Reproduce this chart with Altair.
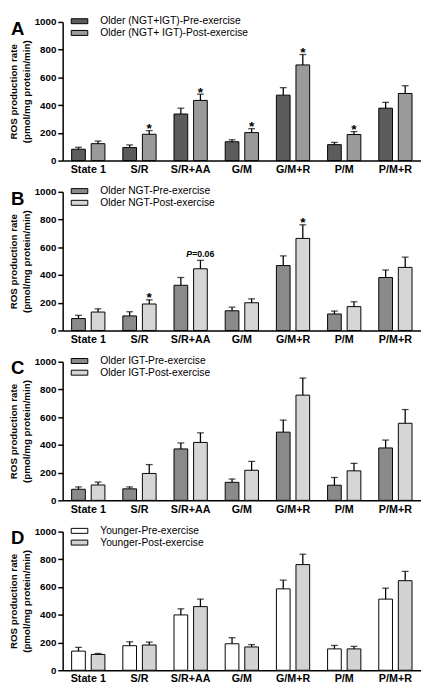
import altair as alt
import pandas as pd

categories = ["State 1", "S/R", "S/R+AA", "G/M", "G/M+R", "P/M", "P/M+R"]
panel_letters = ["A", "B", "C", "D"]
groups = ["pre", "post"]

series_names = {
    "A": ["Older (NGT+IGT)-Pre-exercise", "Older (NGT+ IGT)-Post-exercise"],
    "B": ["Older NGT-Pre-exercise", "Older NGT-Post-exercise"],
    "C": ["Older IGT-Pre-exercise", "Older IGT-Post-exercise"],
    "D": ["Younger-Pre-exercise", "Younger-Post-exercise"],
}
series_colors = {
    "A": ["#5c5c5c", "#9a9a9a"],
    "B": ["#8a8a8a", "#d6d6d6"],
    "C": ["#8a8a8a", "#d6d6d6"],
    "D": ["#ffffff", "#d3d3d3"],
}

# means and SEM (pmol/mg protein/min)
A_pre = [82, 94, 336, 136, 472, 115, 378]
A_pre_sem = [14, 19, 42, 14, 54, 16, 42]
A_post = [122, 190, 434, 202, 690, 188, 484]
A_post_sem = [19, 26, 45, 28, 75, 21, 56]

B_pre = [86, 105, 326, 142, 468, 119, 382]
B_pre_sem = [23, 30, 56, 26, 70, 21, 54]
B_post = [133, 191, 445, 200, 664, 172, 455]
B_post_sem = [23, 30, 61, 28, 98, 35, 74]

C_pre = [80, 83, 371, 130, 492, 109, 378]
C_pre_sem = [17, 14, 43, 24, 87, 56, 57]
C_post = [111, 194, 418, 217, 759, 213, 556]
C_post_sem = [21, 64, 69, 64, 123, 54, 99]

D_pre = [138, 177, 399, 191, 587, 154, 513]
D_pre_sem = [27, 28, 44, 44, 63, 25, 79]
D_post = [114, 182, 459, 168, 762, 154, 646]
D_post_sem = [7, 21, 54, 17, 75, 18, 67]

values = {
    "A": (A_pre, A_pre_sem, A_post, A_post_sem),
    "B": (B_pre, B_pre_sem, B_post, B_post_sem),
    "C": (C_pre, C_pre_sem, C_post, C_post_sem),
    "D": (D_pre, D_pre_sem, D_post, D_post_sem),
}

# significance annotations (on post-exercise bars)
ann_panel = ["A", "A", "A", "A", "A", "B", "B", "B"]
ann_cat = ["S/R", "S/R+AA", "G/M", "G/M+R", "P/M", "S/R", "G/M+R", "S/R+AA"]
ann_label = ["*", "*", "*", "*", "*", "*", "*", "P=0.06"]

FONT = "Liberation Sans"
W, H = 367, 142

yaxis = alt.Axis(title=["ROS production rate", "(pmol/mg protein/min)"],
                 values=[0, 200, 400, 600, 800, 1000], format="d", grid=False,
                 labelOverlap=False, labelFont=FONT, labelFontSize=10,
                 labelFontWeight="bold", labelColor="black", labelPadding=2,
                 tickSize=5, tickColor="black", tickWidth=1.5,
                 domainColor="black", domainWidth=1.5, titleFont=FONT,
                 titleFontSize=10, titleFontWeight="bold", titleColor="black",
                 titleLineHeight=13, titlePadding=3)
xaxis = alt.Axis(title=None, labelAngle=0, ticks=False, labelFont=FONT,
                 labelFontSize=11, labelFontWeight="bold", labelColor="black",
                 labelPadding=3, domainColor="black", domainWidth=1.5)
xscale = alt.Scale(type="band", paddingInner=0.35, paddingOuter=0.175)
oscale = alt.Scale(type="band", paddingInner=0.3, paddingOuter=0)
yscale = alt.Scale(domain=[0, 1000])


def panel(letter):
    pre, pre_sem, post, post_sem = values[letter]
    names = series_names[letter]
    rows = []
    for i, c in enumerate(categories):
        rows.append({"cat": c, "grp": "pre", "series": names[0], "mean": pre[i], "top": pre[i] + pre_sem[i]})
        rows.append({"cat": c, "grp": "post", "series": names[1], "mean": post[i], "top": post[i] + post_sem[i]})
    df = pd.DataFrame(rows)

    xenc = alt.X("cat:N", sort=categories, scale=xscale, axis=xaxis)
    xoff = alt.XOffset("grp:N", sort=groups, scale=oscale)

    base = alt.Chart(df).encode(x=xenc, xOffset=xoff)

    bars = base.mark_bar(stroke="black", strokeWidth=1).encode(
        y=alt.Y("mean:Q", scale=yscale, axis=yaxis),
        color=alt.Color("series:N", sort=names,
                        scale=alt.Scale(domain=names, range=series_colors[letter]),
                        legend=alt.Legend(title=None, orient="none", legendX=12, legendY=-6,
                                          symbolType="M-2,-0.6H2V0.6H-2Z", symbolSize=72,
                                          symbolStrokeColor="black", symbolStrokeWidth=1,
                                          symbolOpacity=1, labelFont=FONT, labelFontSize=10.5,
                                          labelColor="black", labelOffset=16, rowPadding=1)),
    )
    rule = base.mark_rule(color="black", strokeWidth=1.3).encode(
        y=alt.Y("mean:Q", scale=yscale, axis=yaxis), y2="top:Q")
    cap = base.mark_tick(color="black", thickness=1.3, size=7, orient="horizontal").encode(
        y=alt.Y("top:Q", scale=yscale, axis=yaxis))

    layers = [bars, rule, cap]

    adf = pd.DataFrame({"panel": ann_panel, "cat": ann_cat, "label": ann_label})
    adf = adf[adf["panel"] == letter].copy()
    if len(adf):
        adf["grp"] = "post"
        adf = adf.merge(df[["cat", "grp", "top"]], on=["cat", "grp"])
        stars = adf[adf["label"] == "*"]
        pvals = adf[adf["label"] != "*"].copy()
        if len(stars):
            layers.append(alt.Chart(stars).mark_text(
                fontSize=14, fontWeight="bold", font=FONT, color="black",
                baseline="alphabetic", dy=2.5).encode(
                x=xenc, xOffset=xoff,
                y=alt.Y("top:Q", scale=yscale, axis=yaxis), text="label:N"))
        if len(pvals):
            pvals["p"] = pvals["label"].str[:1]
            pvals["rest"] = pvals["label"].str[1:]
            layers.append(alt.Chart(pvals).mark_text(
                fontSize=9, fontWeight="bold", fontStyle="italic", font=FONT, color="black",
                baseline="alphabetic", align="left", dx=-14.5, dy=-3).encode(
                x=xenc, xOffset=xoff,
                y=alt.Y("top:Q", scale=yscale, axis=yaxis), text="p:N"))
            layers.append(alt.Chart(pvals).mark_text(
                fontSize=9, fontWeight="bold", font=FONT, color="black",
                baseline="alphabetic", align="left", dx=-8.5, dy=-3).encode(
                x=xenc, xOffset=xoff,
                y=alt.Y("top:Q", scale=yscale, axis=yaxis), text="rest:N"))

    letter_df = pd.DataFrame({"panel": [letter]})
    layers.append(alt.Chart(letter_df).mark_text(
        fontSize=19, fontWeight="bold", font=FONT, color="black",
        align="left", baseline="alphabetic").encode(
        x=alt.value(-53), y=alt.value(13), text="panel:N"))

    return alt.layer(*layers).properties(width=W, height=H)


chart = alt.vconcat(*[panel(p) for p in panel_letters], spacing=12, padding=0).resolve_scale(
    color="independent").configure_view(stroke=None)

chart.save("out.html", embed_options={"renderer": "svg", "actions": False})
